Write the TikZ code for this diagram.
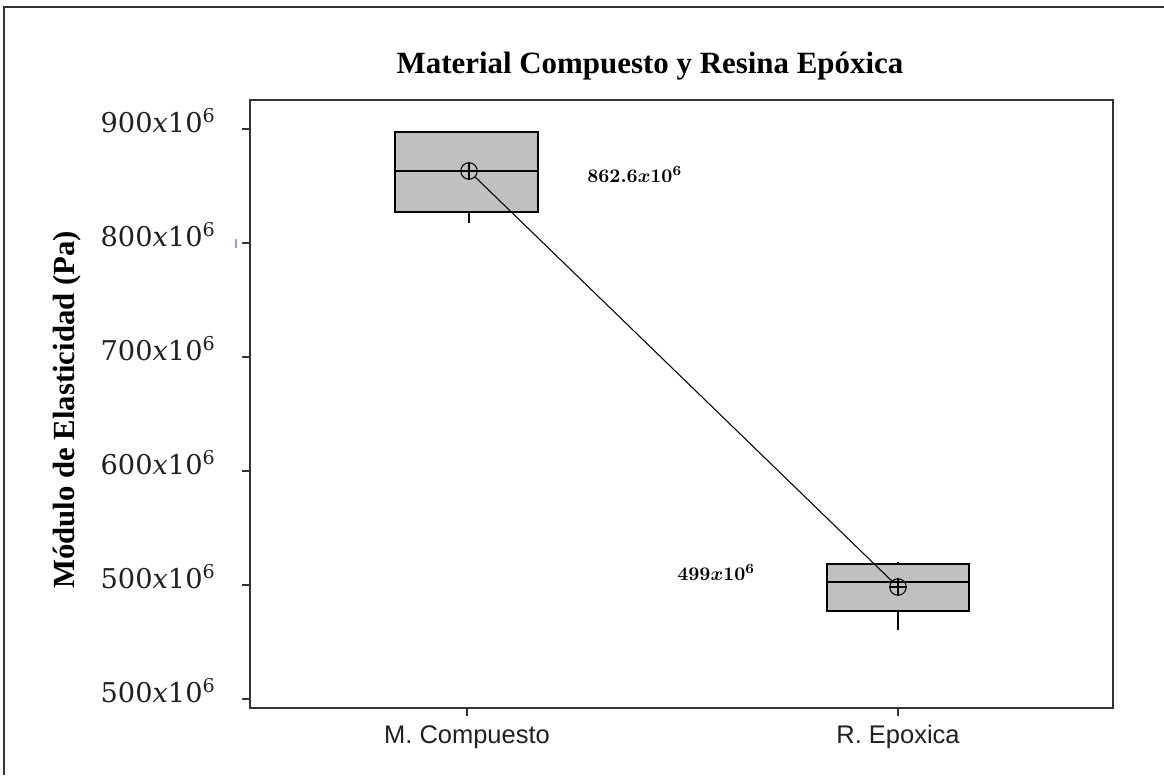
\documentclass[tikz,border=0pt]{standalone}
\usepackage{fontspec}
\setmainfont{Liberation Serif}
\setsansfont{Liberation Sans}
\newfontfamily\tickfont{DejaVu Serif}
\definecolor{boxgray}{HTML}{C0C0C0}
\definecolor{ticktext}{HTML}{202020}
\definecolor{framegray}{HTML}{333333}
\begin{document}
\begin{tikzpicture}[x=0.02cm,y=-0.02cm,
  mean/.style={draw,circle,inner sep=0pt,minimum size=0.33cm,line width=0.6pt},
  ylab/.style={text=ticktext,anchor=base east,inner sep=0pt,font=\tickfont\fontsize{15.5}{18}\selectfont},
  xlab/.style={text=ticktext,anchor=base,inner sep=0pt,font=\sffamily\fontsize{14.5}{17}\selectfont},
  val/.style={anchor=base west,inner sep=0pt,font=\fontsize{11}{13}\selectfont\boldmath},
  boxplot/.style={draw,fill=boxgray,line width=1.1pt}]
\useasboundingbox (0,0) rectangle (1164,775);
%outer frame
\draw[framegray,line width=1.1pt] (4,775) -- (4,7) -- (1164,7);
\node[anchor=base,inner sep=0pt,font=\bfseries\fontsize{17.6}{20}\selectfont] (title) at (650,73) {Material Compuesto y Resina Epóxica};
\node[rotate=90,font=\bfseries\fontsize{17.5}{20}\selectfont] (ytitle) at (67,410) {Módulo de Elasticidad (Pa)};
%plot area
\draw[framegray,line width=1.1pt] (250,100) rectangle (1113,708);
\foreach \yy/\lab [count=\i] in {129/900,243/800,357/700,471/600,585/500,699/500}{
  \draw[framegray,line width=0.8pt] (242,\yy) -- (250,\yy);
  \node[ylab] (ytick\i) at (216,\yy+3) {\lab\textit{x}10\textsuperscript{6}};
}
\draw[blue!40,line width=1pt] (236,239) -- (236,248);
\foreach \xx/\lab [count=\i] in {467/M. Compuesto,898/R. Epoxica}{
  \draw[framegray,line width=0.8pt] (\xx,708) -- (\xx,716);
  \node[xlab] (xtick\i) at (\xx,743) {\lab};
}
%boxes
\draw[boxplot] (395,132) rectangle (538,212);
\draw[line width=1.1pt] (395,171) -- (538,171);
\draw[line width=1.1pt] (469,212) -- (469,223);
\draw[boxplot] (827,564) rectangle (969,611);
\draw[line width=1.1pt] (827,582) -- (969,582);
\draw[line width=1.1pt] (898,562) -- (898,564);
\draw[line width=1.1pt] (898,611) -- (898,630);
%means
\node[mean] (mc) at (469,171) {};
\draw[line width=0.6pt] (mc.north) -- (mc.south) (mc.west) -- (mc.east);
\node[mean] (re) at (898,587) {};
\draw[line width=0.6pt] (re.north) -- (re.south) (re.west) -- (re.east);
\draw[line width=0.6pt] (mc) -- (re);
\node[val] (vmc) at (587,182) {$862.6x10^6$};
\node[val] (vre) at (677,580) {$499x10^6$};
\end{tikzpicture}
\end{document}
